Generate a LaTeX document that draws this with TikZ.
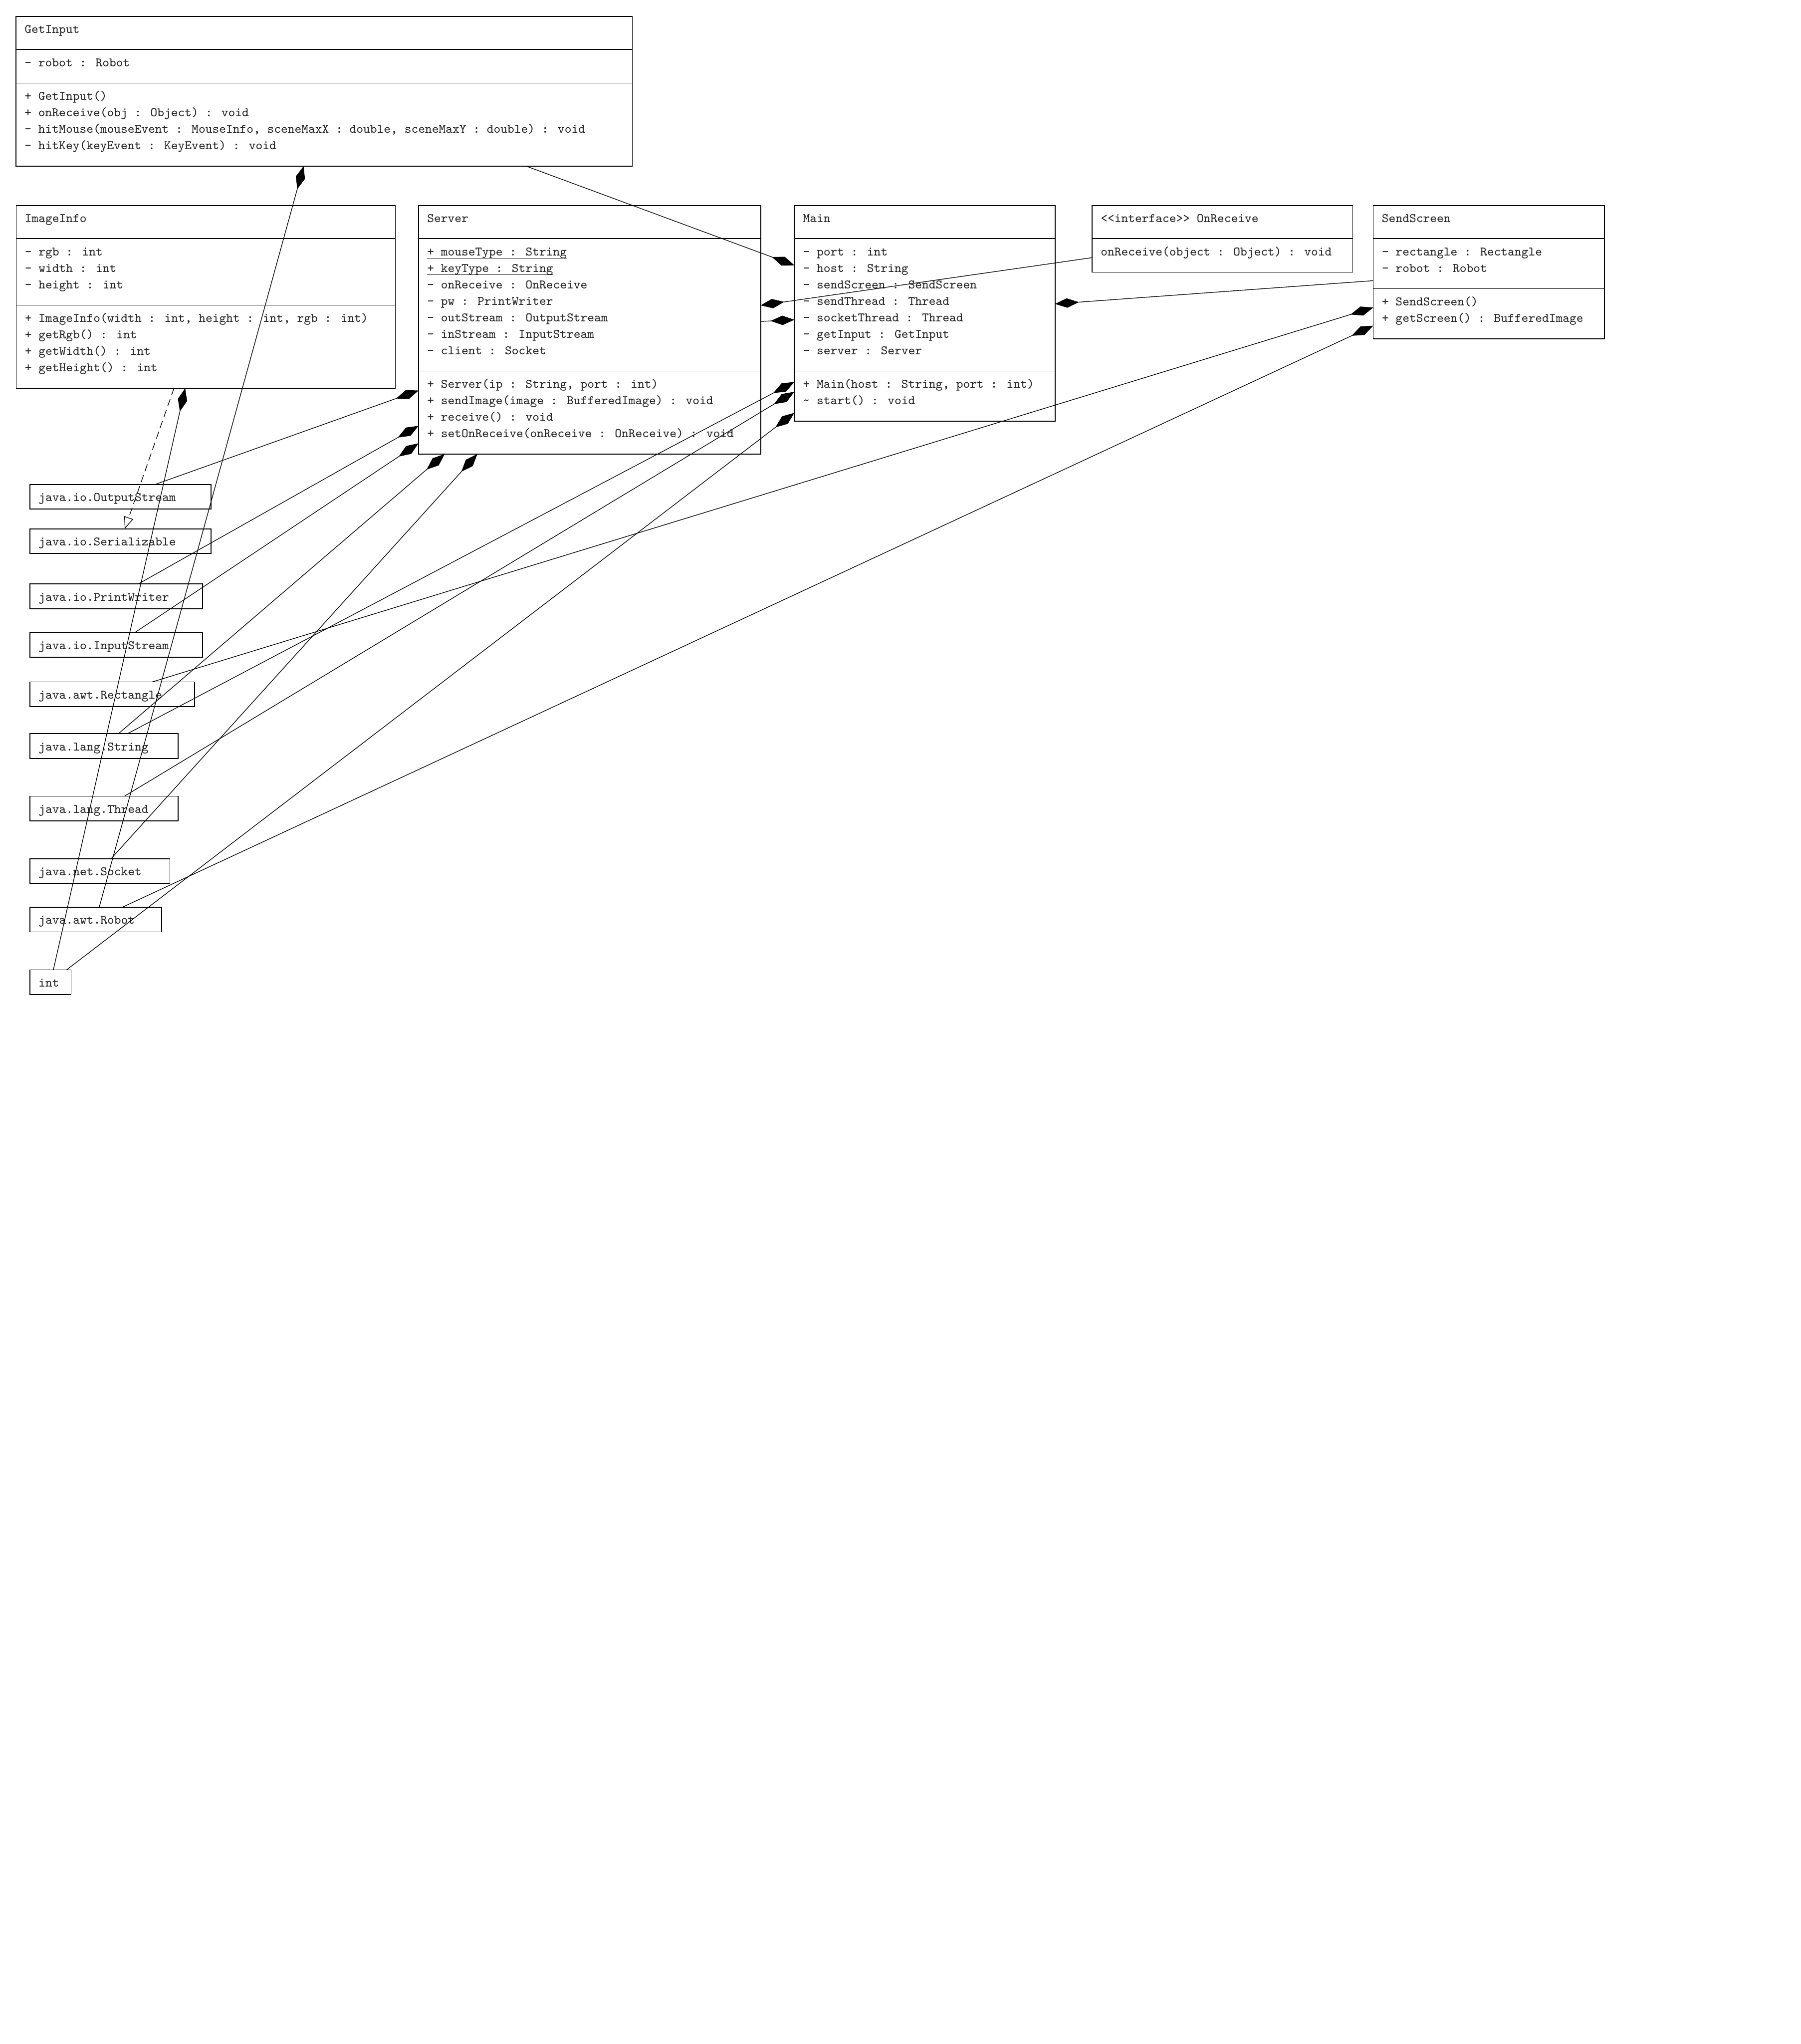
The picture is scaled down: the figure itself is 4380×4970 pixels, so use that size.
\documentclass[tikz,border=0pt]{standalone}
\usepackage{fontspec}
\usetikzlibrary{arrows.meta,fit}
\newcommand\umlfont{\fontsize{7.86pt}{10pt}\selectfont\ttfamily}
\newcounter{umltl}
\newcommand\umlline[3]{\stepcounter{umltl}\node[txt] (txt\theumltl) at (#1,#2) {#3};}
\begin{document}
\begin{tikzpicture}[x=0.25pt,y=-0.25pt,
  box/.style={draw, line width=0.5pt, inner sep=0pt, outer sep=0pt},
  divider/.style={line width=0.5pt},
  txt/.style={anchor=base west, inner sep=0pt, outer sep=0pt, font=\umlfont, text=black!85},
  conn/.style={line width=0.4pt},
  comp/.style={conn, -{Diamond[length=14.5pt,width=5.75pt]}},
  real/.style={conn, dash pattern=on 4.5pt off 2.5pt, -{Triangle[open,length=7.25pt,width=5.75pt]}},
  uline/.style={line width=0.3pt, black!85}]
\fill[white] (0,0) rectangle (4380,4970);
\useasboundingbox (0,0) rectangle (4380,4970);

% ---------- class boxes ----------
\node[box, fit={(39,40) (1538,404)}] (getinput) {};
\draw[divider] (39,120) -- (1538,120);
\draw[divider] (39,202) -- (1538,202);
\umlline{60}{81}{GetInput}
\umlline{60}{162}{- robot : Robot}
\umlline{60}{243}{+ GetInput()}
\umlline{60}{283}{+ onReceive(obj : Object) : void}
\umlline{60}{323}{- hitMouse(mouseEvent : MouseInfo, sceneMaxX : double, sceneMaxY : double) : void}
\umlline{60}{363}{- hitKey(keyEvent : KeyEvent) : void}

\node[box, fit={(39.5,500) (961.5,944)}] (imageinfo) {};
\draw[divider] (39.5,580) -- (961.5,580);
\draw[divider] (39.5,742) -- (961.5,742);
\umlline{60.5}{541}{ImageInfo}
\umlline{60.5}{621.5}{- rgb : int}
\umlline{60.5}{661.5}{- width : int}
\umlline{60.5}{701.5}{- height : int}
\umlline{60.5}{783.5}{+ ImageInfo(width : int, height : int, rgb : int)}
\umlline{60.5}{823.5}{+ getRgb() : int}
\umlline{60.5}{863.5}{+ getWidth() : int}
\umlline{60.5}{903.5}{+ getHeight() : int}

\node[box, fit={(1018,500) (1850,1104)}] (server) {};
\draw[divider] (1018,580) -- (1850,580);
\draw[divider] (1018,902) -- (1850,902);
\umlline{1039}{541}{Server}
\node[txt] (mousetype) at (1039,621.5) {+ mouseType : String};
\node[txt] (keytype) at (1039,661.5) {+ keyType : String};
\draw[uline] ([yshift=-1.5pt]mousetype.base west) -- ([yshift=-1.5pt]mousetype.base east);
\draw[uline] ([yshift=-1.5pt]keytype.base west) -- ([yshift=-1.5pt]keytype.base east);
\umlline{1039}{701.5}{- onReceive : OnReceive}
\umlline{1039}{741.5}{- pw : PrintWriter}
\umlline{1039}{781.5}{- outStream : OutputStream}
\umlline{1039}{821.5}{- inStream : InputStream}
\umlline{1039}{861.5}{- client : Socket}
\umlline{1039}{943.5}{+ Server(ip : String, port : int)}
\umlline{1039}{983.5}{+ sendImage(image : BufferedImage) : void}
\umlline{1039}{1023.5}{+ receive() : void}
\umlline{1039}{1063.5}{+ setOnReceive(onReceive : OnReceive) : void}

\node[box, fit={(1932,500) (2566,1024)}] (main) {};
\draw[divider] (1932,580) -- (2566,580);
\draw[divider] (1932,902) -- (2566,902);
\umlline{1953}{541}{Main}
\umlline{1953}{621.5}{- port : int}
\umlline{1953}{661.5}{- host : String}
\umlline{1953}{701.5}{- sendScreen : SendScreen}
\umlline{1953}{741.5}{- sendThread : Thread}
\umlline{1953}{781.5}{- socketThread : Thread}
\umlline{1953}{821.5}{- getInput : GetInput}
\umlline{1953}{861.5}{- server : Server}
\umlline{1953}{943.5}{+ Main(host : String, port : int)}
\umlline{1953}{983.5}{\textasciitilde{} start() : void}

\node[box, fit={(2656,500) (3290,662)}] (onreceive) {};
\draw[divider] (2656,580) -- (3290,580);
\umlline{2677}{541}{\textless\textless interface\textgreater\textgreater{} OnReceive}
\umlline{2677}{621.5}{onReceive(object : Object) : void}

\node[box, fit={(3340,500) (3902,824)}] (sendscreen) {};
\draw[divider] (3340,580) -- (3902,580);
\draw[divider] (3340,702) -- (3902,702);
\umlline{3361}{541}{SendScreen}
\umlline{3361}{621.5}{- rectangle : Rectangle}
\umlline{3361}{661.5}{- robot : Robot}
\umlline{3361}{743.5}{+ SendScreen()}
\umlline{3361}{783.5}{+ getScreen() : BufferedImage}

% ---------- library boxes ----------
\node[box, fit={(73,1178) (513,1238)}] (outputstream) {};
\umlline{94}{1219}{java.io.OutputStream}
\node[box, fit={(73,1286) (513,1346)}] (serializable) {};
\umlline{94}{1327}{java.io.Serializable}
\node[box, fit={(73,1420) (493,1480)}] (printwriter) {};
\umlline{94}{1461}{java.io.PrintWriter}
\node[box, fit={(73,1538) (493,1598)}] (inputstream) {};
\umlline{94}{1579}{java.io.InputStream}
\node[box, fit={(73,1658) (473,1718)}] (rectangle) {};
\umlline{94}{1699}{java.awt.Rectangle}
\node[box, fit={(73,1784) (433,1844)}] (string) {};
\umlline{94}{1825}{java.lang.String}
\node[box, fit={(73,1936) (433,1996)}] (thread) {};
\umlline{94}{1977}{java.lang.Thread}
\node[box, fit={(73,2088) (413,2148)}] (socket) {};
\umlline{94}{2129}{java.net.Socket}
\node[box, fit={(73,2206) (393,2266)}] (robot) {};
\umlline{94}{2247}{java.awt.Robot}
\node[box, fit={(73,2358) (173,2418)}] (int) {};
\umlline{94}{2399}{int}

% ---------- connectors ----------
\draw[comp] (getinput) -- (main);
\draw[comp] (robot) -- (getinput);
\draw[comp] (int) -- (imageinfo);
\draw[real] (imageinfo) -- (serializable);
\draw[comp] (outputstream) -- (server);
\draw[comp] (printwriter) -- (server);
\draw[comp] (inputstream) -- (server);
\draw[comp] (string) -- (server);
\draw[comp] (socket) -- (server);
\draw[comp] (onreceive) -- (server);
\draw[comp] (server) -- (main);
\draw[comp] (sendscreen) -- (main);
\draw[comp] (string) -- (main);
\draw[comp] (thread) -- (main);
\draw[comp] (int) -- (main);
\draw[comp] (rectangle) -- (sendscreen);
\draw[comp] (robot) -- (sendscreen);
\end{tikzpicture}
\end{document}
